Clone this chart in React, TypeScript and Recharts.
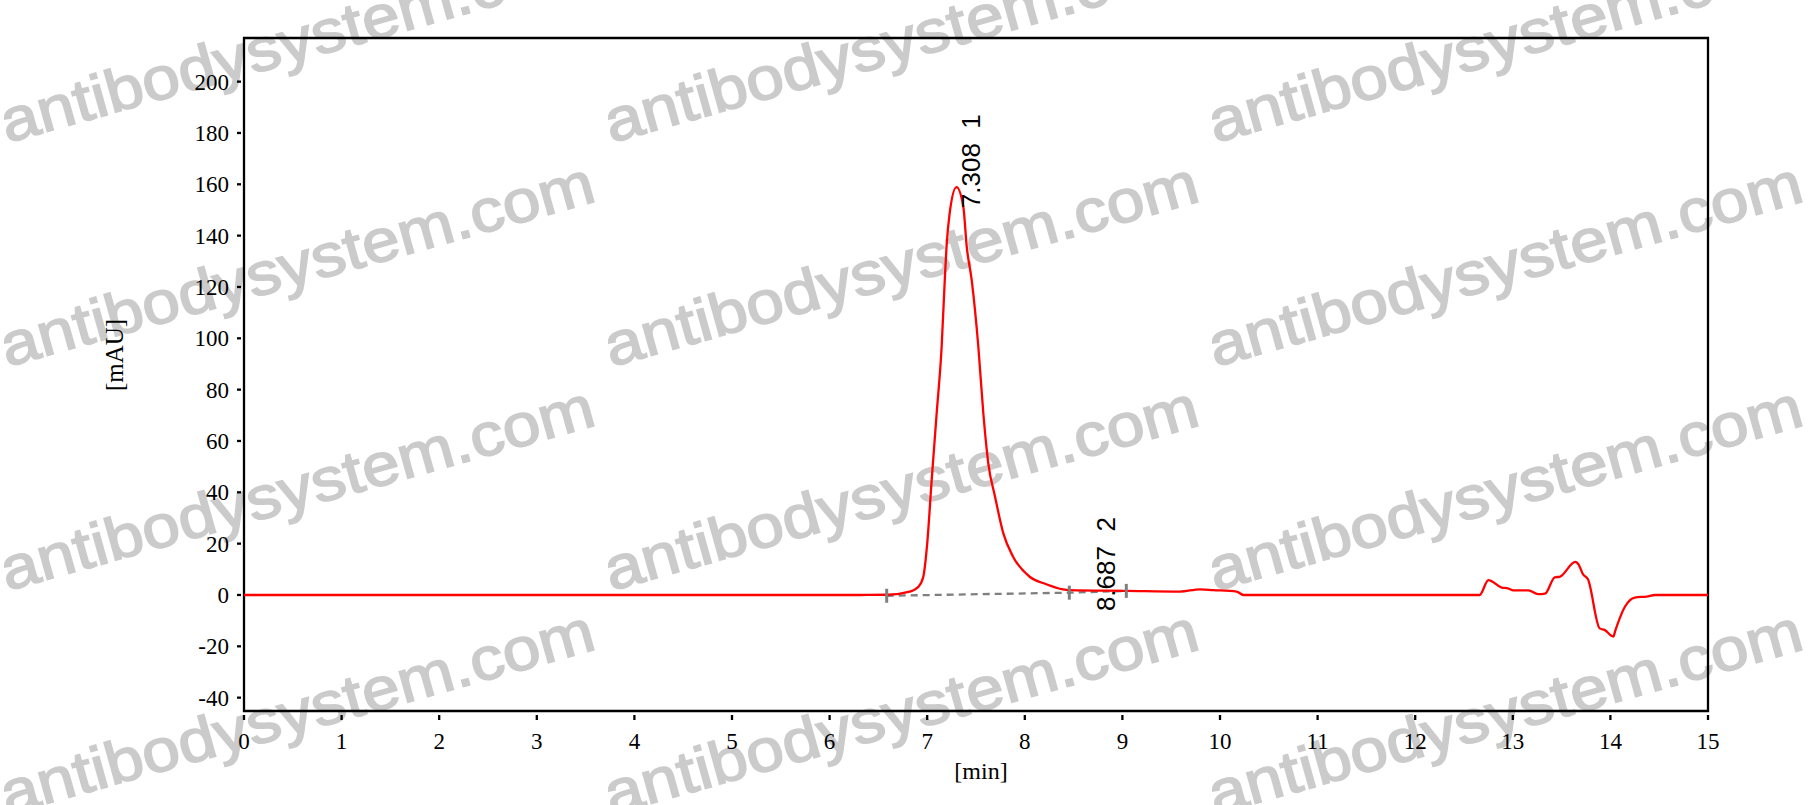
import React from "react";
import { ComposedChart, Line, Scatter, XAxis, YAxis, ReferenceArea } from "recharts";

// chromatogram trace
const retentionTimes = [
  0, 6.31, 6.6, 6.82, 6.91, 6.96, 7.0, 7.046, 7.097, 7.148, 7.18, 7.198, 7.23, 7.3, 7.37, 7.405, 7.456, 7.524,
  7.575, 7.626, 7.695, 7.78, 7.88, 8.05, 8.22, 8.39, 8.46, 9.04, 9.59, 9.795, 9.93, 10.17, 10.24, 12.459, 12.66,
  12.75, 12.886, 12.95, 13.005, 13.16, 13.26, 13.33, 13.43, 13.48, 13.64, 13.67, 13.72, 13.77, 13.89, 13.94, 14.03,
  14.05, 14.15, 14.25, 14.37, 14.46, 15,
];
const absorbance = [
  0, 0, 0.1, 1.3, 3.2, 7.1, 20, 44.8, 70.8, 96.7, 122.7, 135.7, 148.7, 158.9, 151.3, 135.7, 122.7, 96.7, 70.8,
  51.3, 38.3, 24.0, 14.9, 7.1, 4.2, 2.2, 1.9, 1.6, 1.3, 2.2, 1.9, 1.3, 0, 0, 0, 5.8, 2.9, 2.6, 1.8, 1.8, 0.3, 0.5,
  6.9, 7.1, 12.9, 12.1, 8.0, 6.1, -13.0, -13.6, -16.2, -13.9, -4.5, -1.0, -0.6, 0, 0,
];

// integration baseline
const baselineTimes = [6.585, 8.456, 9.04];
const baselineValues = [-0.3, 0.9, 1.6];

// peak annotations
const peakTimes = [7.308, 8.687];
const peakHeights = [158.9, 1.9];
const peakNames = ["7.308  1", "8.687  2"];

const xTicks = [0, 1, 2, 3, 4, 5, 6, 7, 8, 9, 10, 11, 12, 13, 14, 15];
const yTicks = [-40, -20, 0, 20, 40, 60, 80, 100, 120, 140, 160, 180, 200];

const trace = retentionTimes.map((t, i) => ({ t, v: absorbance[i] }));
const baseline = baselineTimes.map((t, i) => ({ t, v: baselineValues[i] }));
const peaks = peakTimes.map((t, i) => ({ t, v: peakHeights[i], name: peakNames[i] }));

const watermarkCols = [7, 611, 1215];
const watermarkRows = [143, 367, 591, 815];

const serif = "'Liberation Serif', 'Times New Roman', serif";

const XTick = ({ x, y, payload }: any) => (
  <g>
    <line x1={x} x2={x} y1={y + 4} y2={y + 9} stroke="#000" strokeWidth={2.3} />
    <text x={x} y={y + 38} textAnchor="middle" fontFamily={serif} fontSize={23} fill="#000">
      {payload.value}
    </text>
  </g>
);

const YTick = ({ x, y, payload }: any) => (
  <g>
    <line x1={x - 7} x2={x - 3} y1={y} y2={y} stroke="#000" strokeWidth={2.3} />
    <text x={x - 15} y={y} dy="0.35em" textAnchor="end" fontFamily={serif} fontSize={23} fill="#000">
      {payload.value}
    </text>
  </g>
);

const BaseTick = (props: any) => {
  const { cx, cy, index } = props;
  return <line key={`bt-${index}`} x1={cx} x2={cx} y1={cy - 7} y2={cy + 7} stroke="#7f7f7f" strokeWidth={3} />;
};

const PeakLabel = (props: any) => {
  const x = props.cx + 23;
  const y = props.cy + 21;
  return (
    <text
      x={x}
      y={y}
      transform={`rotate(-90 ${x} ${y})`}
      fontFamily="'Liberation Sans', Arial, sans-serif"
      fontSize={26}
      fill="#000"
      style={{ whiteSpace: "pre" }}
    >
      {props.payload.name}
    </text>
  );
};

export default function App() {
  return (
    <div style={{ position: "absolute", left: 0, top: 0, width: 1812, height: 805, background: "#fff", overflow: "hidden" }}>
      <svg width={1812} height={805} style={{ position: "absolute", left: 0, top: 0 }}>
        {watermarkRows.map((wy) =>
          watermarkCols.map((wx) => (
            <text
              key={`${wx}-${wy}`}
              x={wx}
              y={wy}
              transform={`rotate(-15.7 ${wx} ${wy})`}
              fontFamily="'Liberation Sans', Arial, sans-serif"
              fontSize={60}
              textLength={614}
              lengthAdjust="spacingAndGlyphs"
              fill="#cbcbcb"
              stroke="#cbcbcb"
              strokeWidth={1.6}
            >
              antibodysystem.com
            </text>
          ))
        )}
        <text x={114} y={355} transform="rotate(-90 114 355)" textAnchor="middle" dominantBaseline="central" fontFamily={serif} fontSize={25}>
          [mAU]
        </text>
        <text x={981} y={779} textAnchor="middle" fontFamily={serif} fontSize={24}>
          [min]
        </text>
      </svg>
      <div style={{ position: "absolute", left: 0, top: 0 }}>
        <ComposedChart width={1812} height={805} margin={{ top: 38, right: 104, bottom: 54, left: 184 }}>
          <XAxis
            dataKey="t"
            type="number"
            domain={[0, 15]}
            ticks={xTicks}
            interval={0}
            height={40}
            axisLine={false}
            tickLine={false}
            tickSize={0}
            tickMargin={0}
            tick={<XTick />}
            allowDataOverflow
          />
          <YAxis
            type="number"
            domain={[-45.2, 217]}
            ticks={yTicks}
            interval={0}
            width={60}
            axisLine={false}
            tickLine={false}
            tickSize={0}
            tickMargin={0}
            tick={<YTick />}
            allowDataOverflow
          />
          <ReferenceArea x1={0} x2={15} y1={-45.2} y2={217} fill="none" fillOpacity={0} stroke="#000" strokeWidth={2.3} ifOverflow="visible" />
          <Line
            data={baseline}
            dataKey="v"
            type="linear"
            stroke="#7f7f7f"
            strokeWidth={2.3}
            strokeDasharray="7 5"
            dot={BaseTick}
            activeDot={false}
            isAnimationActive={false}
          />
          <Line
            data={trace}
            dataKey="v"
            type="monotone"
            stroke="#ff0000"
            strokeWidth={2.3}
            dot={false}
            activeDot={false}
            isAnimationActive={false}
          />
          <Scatter data={peaks} dataKey="v" shape={PeakLabel} isAnimationActive={false} />
        </ComposedChart>
      </div>
    </div>
  );
}
